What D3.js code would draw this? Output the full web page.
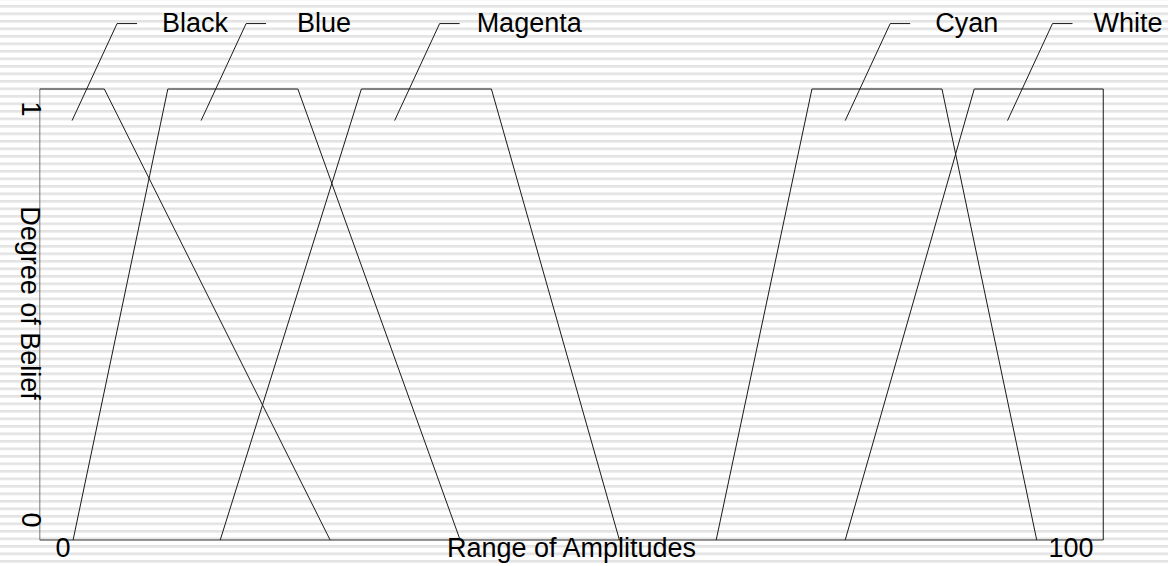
<!DOCTYPE html>
<html>
<head>
<meta charset="utf-8">
<script src="https://cdn.jsdelivr.net/npm/d3@7"></script>
<style>
  body { margin: 0; background: #fff; }
  text { font-family: "Liberation Sans", Arial, sans-serif; fill: #000; }
</style>
</head>
<body>
<script>
// fuzzy set names and their trapezoid breakpoints [amplitude, belief]
var setNames = ["Black", "Blue", "Magenta", "Cyan", "White"];
var setPoints = [
  [[-2.3, 1], [4.1, 1], [26.5, 0]],
  [[1.0, 0], [10.4, 1], [23.3, 1], [39.4, 0]],
  [[15.6, 0], [29.6, 1], [42.5, 1], [55.2, 0]],
  [[64.8, 0], [74.3, 1], [87.2, 1], [96.6, 0]],
  [[77.6, 0], [90.4, 1], [103.2, 1], [103.2, 0]]
];
// where each name's leader line points to
var labelAnchors = [0.9, 13.7, 32.9, 77.6, 93.7];
var labelBelief = 0.93;
var xTicks = [0, 100];
var yTicks = [0, 1];

var width = 1168, height = 566;

var svg = d3.select("body").append("svg")
.attr("width", width)
.attr("height", height);

// striped background
var defs = svg.append("defs");
var pat = defs.append("pattern")
.attr("id", "stripes")
.attr("patternUnits", "userSpaceOnUse")
.attr("width", 10)
.attr("height", 7.5)
.attr("y", 5);
pat.append("rect").attr("width", 10).attr("height", 7.5).attr("fill", "#fff");
pat.append("rect").attr("width", 10).attr("height", 2.6).attr("fill", "#e3e3e3");

svg.append("rect")
.attr("width", width)
.attr("height", height)
.attr("fill", "url(#stripes)");

var x = d3.scaleLinear().domain([0, 100]).range([63, 1071]);
var y = d3.scaleLinear().domain([0, 1]).range([540, 89]);

var left = x(-2.3), right = x(103.2);

// frame
svg.append("line")
.attr("x1", left).attr("x2", left)
.attr("y1", y(0)).attr("y2", y(1))
.attr("stroke", "#777").attr("stroke-width", 1);

svg.append("line")
.attr("x1", left).attr("x2", right)
.attr("y1", y(0)).attr("y2", y(0))
.attr("stroke", "#333").attr("stroke-width", 1);

// membership functions
var line = d3.line()
.x(function(d) { return x(d[0]); })
.y(function(d) { return y(d[1]); });

svg.selectAll("path.set")
.data(setPoints)
.enter().append("path")
.attr("class", "set")
.attr("d", line)
.attr("fill", "none")
.attr("stroke", "#1a1a1a")
.attr("stroke-width", 1);

// leader lines and names
var textGap = [90, 96, 82, 90, 86];

var labels = svg.selectAll("g.label")
.data(setNames)
.enter().append("g")
.attr("class", "label")
.attr("transform", function(d, i) {
  return "translate(" + x(labelAnchors[i]) + "," + y(labelBelief) + ")";
});

labels.append("path")
.attr("d", "M0,0L45,-97L65,-97")
.attr("fill", "none")
.attr("stroke", "#1a1a1a")
.attr("stroke-width", 1);

labels.append("text")
.attr("x", function(d, i) { return textGap[i]; })
.attr("y", -89)
.attr("font-size", 27)
.text(function(d) { return d; });

// ticks
svg.selectAll("text.xtick")
.data(xTicks)
.enter().append("text")
.attr("class", "xtick")
.attr("x", function(d) { return x(d); })
.attr("y", 557)
.attr("text-anchor", "middle")
.attr("font-size", 27)
.text(function(d) { return d; });

svg.selectAll("text.ytick")
.data(yTicks)
.enter().append("text")
.attr("class", "ytick")
.attr("transform", function(d) {
  var yy = d === 1 ? y(d) + 20 : y(d) - 20;
  return "translate(22," + yy + ") rotate(90)";
})
.attr("text-anchor", "middle")
.attr("font-size", 27)
.text(function(d) { return d; });

// axis titles
svg.append("text")
.attr("x", (left + right) / 2)
.attr("y", 557)
.attr("text-anchor", "middle")
.attr("font-size", 27)
.text("Range of Amplitudes");

svg.append("text")
.attr("transform", "translate(21,303) rotate(90)")
.attr("text-anchor", "middle")
.attr("font-size", 27)
.text("Degree of Belief");
</script>
</body>
</html>
